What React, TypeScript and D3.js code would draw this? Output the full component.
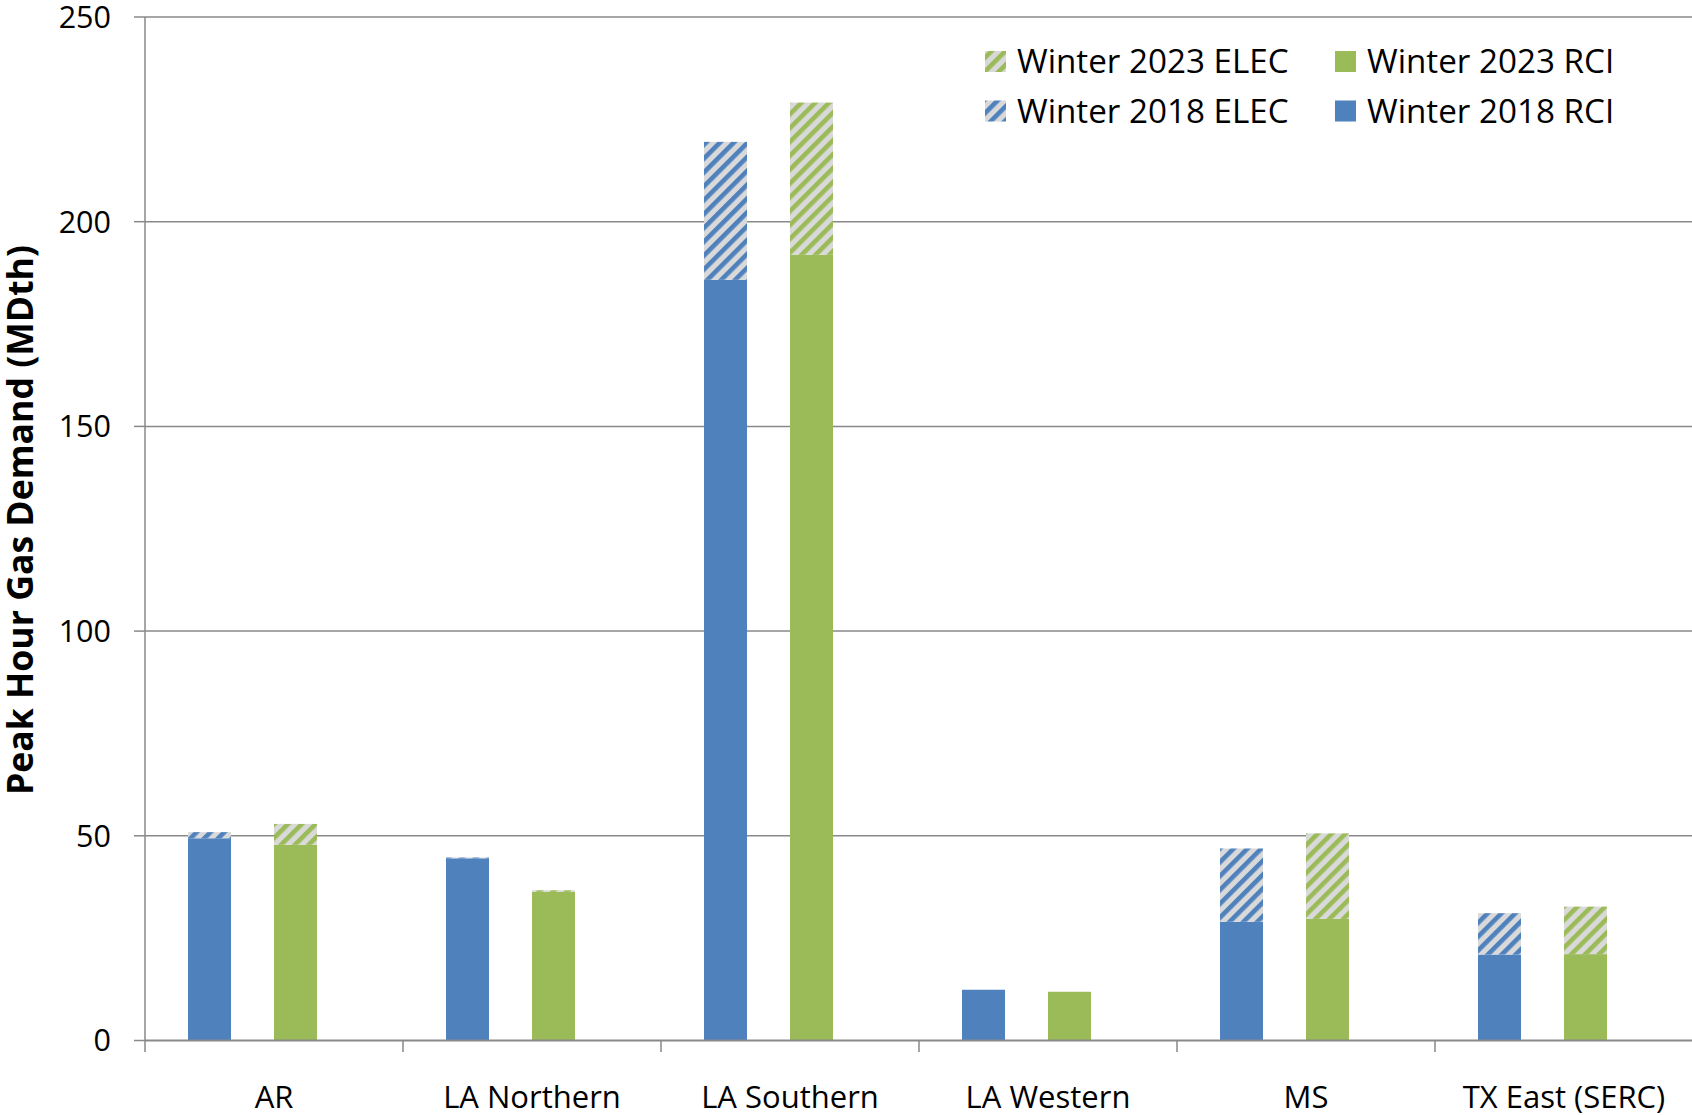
import React from "react";
import * as d3 from "d3";

const categories = ["AR", "LA Northern", "LA Southern", "LA Western", "MS", "TX East (SERC)"];
const rci2018 = [49.4, 44.5, 185.8, 12.4, 29.0, 21.0];
const elec2018 = [1.5, 0.2, 33.7, 0.0, 17.9, 10.1];
const rci2023 = [47.8, 36.3, 191.9, 11.9, 29.7, 21.1];
const elec2023 = [5.1, 0.4, 37.2, 0.0, 20.9, 11.6];
const yTicks = [0, 50, 100, 150, 200, 250];
const years = ["2018", "2023"];

const W = 1692;
const H = 1115;
const BLUE = "#4F81BD";
const GREEN = "#9BBB59";
const HATCH_BG = "#D9D9D9";
const GRID = "#898989";
const FONT = "'Open Sans', sans-serif";

export default function App() {
  const plotLeft = 145;
  const plotRight = 1693;
  const y = d3.scaleLinear().domain([0, 250]).range([1040.5, 17]);
  const x = d3.scaleBand<string>().domain(categories).range([plotLeft, plotRight]);
  const inner = d3
    .scaleBand<string>()
    .domain(years)
    .range([0, (x.bandwidth() * 5) / 6])
    .paddingInner(0.5)
    .paddingOuter(0.5);

  const series = [
    { year: "2018", rci: rci2018, elec: elec2018, color: BLUE, pat: "hatchBlue" },
    { year: "2023", rci: rci2023, elec: elec2023, color: GREEN, pat: "hatchGreen" },
  ];

  const legend = [
    { label: "Winter 2023 ELEC", fill: "url(#hatchGreenL)", col: 0, row: 0 },
    { label: "Winter 2023 RCI", fill: GREEN, col: 1, row: 0 },
    { label: "Winter 2018 ELEC", fill: "url(#hatchBlueL)", col: 0, row: 1 },
    { label: "Winter 2018 RCI", fill: BLUE, col: 1, row: 1 },
  ];
  const legendColX = [985, 1335];
  const legendRowY = [61.5, 111];

  const period = 9.8;
  const stripe = 4.6;
  const mkPattern = (id: string, color: string) => (
    <pattern
      id={id}
      key={id}
      patternUnits="userSpaceOnUse"
      width={period}
      height={period}
      patternTransform="rotate(45)"
    >
      <rect x={0} y={0} width={period} height={period} fill={HATCH_BG} />
      <rect x={0} y={0} width={stripe} height={period} fill={color} />
    </pattern>
  );

  return (
    <svg
      width={W}
      height={H}
      style={{ position: "absolute", left: 0, top: 0, display: "block", background: "#fff" }}
      fontFamily={FONT}
    >
      <defs>
        {mkPattern("hatchBlue", BLUE)}
        {mkPattern("hatchGreen", GREEN)}
        {mkPattern("hatchBlueL", BLUE)}
        {mkPattern("hatchGreenL", GREEN)}
      </defs>
      <rect x={0} y={0} width={W} height={H} fill="#fff" />

      {/* gridlines and y ticks */}
      {yTicks.map((t) => (
        <g key={t}>
          {t > 0 && (
            <line x1={plotLeft} x2={W} y1={y(t)} y2={y(t)} stroke={GRID} strokeWidth={1.5} />
          )}
          <line x1={134} x2={plotLeft} y1={y(t)} y2={y(t)} stroke={GRID} strokeWidth={1.5} />
          <text
            x={111}
            y={y(t)}
            dy="0.36em"
            textAnchor="end"
            fontSize={30.5}
            fill="#000"
          >
            {t}
          </text>
        </g>
      ))}

      {/* bars */}
      {categories.map((c, i) =>
        series.map((s) => {
          const bx = (x(c) as number) + (inner(s.year) as number);
          const bw = inner.bandwidth();
          const r = s.rci[i];
          const e = s.elec[i];
          return (
            <g key={c + s.year}>
              <rect x={bx} width={bw} y={y(r)} height={y(0) - y(r)} fill={s.color} />
              {e > 0 && (
                <rect x={bx} width={bw} y={y(r + e)} height={y(r) - y(r + e)} fill={`url(#${s.pat})`} />
              )}
            </g>
          );
        })
      )}

      {/* axes */}
      <line x1={plotLeft} x2={W} y1={y(0)} y2={y(0)} stroke={GRID} strokeWidth={1.8} />
      <line x1={plotLeft} x2={plotLeft} y1={y(250)} y2={1052} stroke={GRID} strokeWidth={1.5} />
      {categories.slice(1).map((c) => (
        <line
          key={c}
          x1={x(c) as number}
          x2={x(c) as number}
          y1={y(0)}
          y2={1052}
          stroke={GRID}
          strokeWidth={1.5}
        />
      ))}
      {categories.map((c) => (
        <text
          key={c}
          x={(x(c) as number) + x.bandwidth() / 2}
          y={1108}
          textAnchor="middle"
          fontSize={31}
          fill="#000"
        >
          {c}
        </text>
      ))}

      {/* y title */}
      <text
        transform={`translate(33, 520) rotate(-90)`}
        textAnchor="middle"
        fontSize={35.6}
        fontWeight="bold"
        fill="#000"
      >
        Peak Hour Gas Demand (MDth)
      </text>

      {/* legend */}
      {legend.map((l) => (
        <g key={l.label}>
          <rect
            x={legendColX[l.col]}
            y={legendRowY[l.row] - 10.5}
            width={21}
            height={21}
            fill={l.fill}
          />
          <text
            x={legendColX[l.col] + 32}
            y={legendRowY[l.row]}
            dy="0.36em"
            fontSize={33.2}
            fill="#000"
          >
            {l.label}
          </text>
        </g>
      ))}
    </svg>
  );
}
